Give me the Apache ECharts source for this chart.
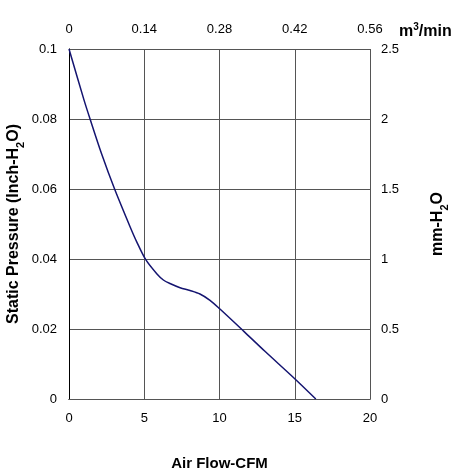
<!DOCTYPE html>
<html>
<head>
<meta charset="utf-8">
<script src="https://cdn.jsdelivr.net/npm/echarts@6/dist/echarts.min.js"></script>
<style>html,body{margin:0;padding:0;background:#fff}#c{width:461px;height:472px}</style>
</head>
<body>
<div id="c"></div>
<script>
const flowCFM = [0, 1.0, 1.4, 2.17, 3.03, 4.05, 4.5, 5.1, 5.83, 6.27, 6.71, 7.38, 8.04, 8.7, 9.37, 10.03, 11.6, 13.0, 15.0, 16.4];
const pressureInch = [0.1, 0.0854, 0.08, 0.070, 0.06, 0.0493, 0.0449, 0.0398, 0.0358, 0.034, 0.0330, 0.0318, 0.0310, 0.0300, 0.0282, 0.0257, 0.0194, 0.0137, 0.0058, 0];
const topTicks = [0, 0.14, 0.28, 0.42, 0.56];
const rightTicks = [0, 0.5, 1, 1.5, 2, 2.5];

const font = 'Liberation Sans, Arial, sans-serif';
const nameRich = {
  b: {fontFamily: font, fontSize: 16, fontWeight: 'bold', color: '#000', lineHeight: 20, verticalAlign: 'bottom'},
  s: {fontFamily: font, fontSize: 11, fontWeight: 'bold', color: '#000', lineHeight: 20, verticalAlign: 'bottom', padding: [0,0,-4,0]}
};
const chart = echarts.init(document.getElementById('c'), null, {renderer: 'canvas'});
chart.setOption({
  animation: false,
  grid: {left: 69, right: 91, top: 49, bottom: 73, outerBoundsMode: 'none', containLabel: false},
  xAxis: [
    {type: 'value', position: 'bottom', min: 0, max: 20, interval: 5,
     name: 'Air Flow-CFM', nameLocation: 'middle', nameGap: 57,
     nameTextStyle: {fontFamily: font, fontSize: 15, fontWeight: 'bold', color: '#000'},
     axisLine: {show: true, lineStyle: {color: '#000', width: 1}},
     axisTick: {show: false},
     axisLabel: {fontFamily: font, fontSize: 13, color: '#000', margin: 13},
     splitLine: {show: true, lineStyle: {color: '#555', width: 1}}},
    {type: 'value', position: 'top', min: topTicks[0], max: topTicks[topTicks.length-1], interval: 0.14,
     axisLine: {show: true, lineStyle: {color: '#555', width: 1}},
     axisTick: {show: false},
     axisLabel: {fontFamily: font, fontSize: 13, color: '#000', margin: 13,
       formatter: v => topTicks.find(t => Math.abs(t - v) < 1e-6) !== undefined ? String(+v.toFixed(2)) : ''},
     splitLine: {show: false}}
  ],
  yAxis: [
    {type: 'value', position: 'left', min: 0, max: 0.1, interval: 0.02,
     name: '{b|Static Pressure (Inch-H}{s|2}{b|O)}', nameLocation: 'middle', nameGap: 47,
     nameMoveOverlap: false,
     nameTextStyle: {rich: nameRich},
     axisLine: {show: true, lineStyle: {color: '#777', width: 1}},
     axisTick: {show: false},
     axisLabel: {fontFamily: font, fontSize: 13, color: '#000', margin: 12,
       formatter: v => String(+v.toFixed(2))},
     splitLine: {show: true, lineStyle: {color: '#555', width: 1}}},
    {type: 'value', position: 'right', min: rightTicks[0], max: rightTicks[rightTicks.length-1], interval: 0.5,
     name: '{b|mm-H}{s|2}{b|O}', nameLocation: 'middle', nameGap: 56,
     nameTextStyle: {rich: nameRich},
     axisLine: {show: true, lineStyle: {color: '#000', width: 1}},
     axisTick: {show: false},
     axisLabel: {fontFamily: font, fontSize: 13, color: '#000', margin: 11},
     splitLine: {show: false}}
  ],
  graphic: [
    {type: 'text', left: 399, top: 20,
     style: {text: '{b|m}{p|3}{b|/min}', rich: {
       b: {fontFamily: font, fontSize: 16, fontWeight: 'bold', fill: '#000', lineHeight: 20, verticalAlign: 'bottom'},
       p: {fontFamily: font, fontSize: 10, fontWeight: 'bold', fill: '#000', lineHeight: 20, verticalAlign: 'top', padding: [2,0,0,0]}}}}
  ],
  series: [{
    type: 'line', xAxisIndex: 0, yAxisIndex: 0,
    data: flowCFM.map((x, i) => [x, pressureInch[i]]),
    smooth: 0.3, showSymbol: false,
    lineStyle: {color: '#141470', width: 1.5}
  }]
});
</script>
</body>
</html>
